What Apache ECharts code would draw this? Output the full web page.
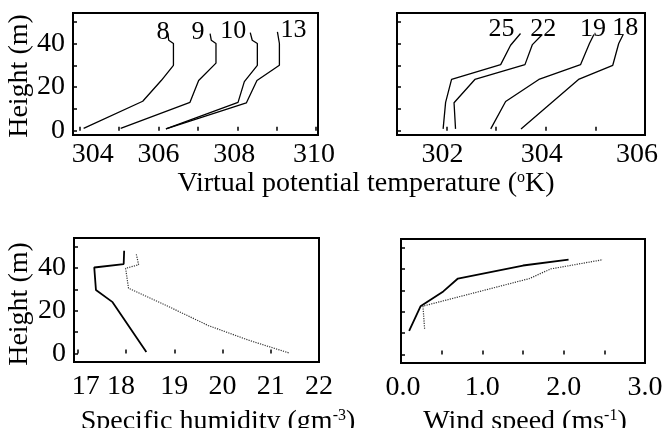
<!DOCTYPE html>
<html><head><meta charset="utf-8">
<script src="https://cdn.jsdelivr.net/npm/echarts@6/dist/echarts.min.js"></script>
<style>html,body{margin:0;padding:0;background:#fff}#c{width:662px;height:428px}</style>
</head><body><div id="c"></div>
<script>
// ---- Data ----
// Panel 1: virtual potential temperature profiles (K) vs height (m)
const h8  = [1, 13.5, 23, 30, 40, 41.5, 44.5];
const t8  = [304.1, 305.6, 306.07, 306.38, 306.38, 306.26, 306.24];
const h9  = [1, 13, 23, 31, 40, 41.5, 44.5];
const t9  = [305.04, 306.8, 307.02, 307.46, 307.46, 307.34, 307.31];
const h10 = [0.8, 13, 22.5, 30, 40, 41.5, 45];
const t10 = [306.19, 308.02, 308.18, 308.51, 308.51, 308.38, 308.33];
const h13 = [0.8, 12.7, 23, 30, 40, 45.3];
const t13 = [306.19, 308.23, 308.5, 309.07, 309.07, 309.02];
// Panel 2
const h25 = [0.8, 13, 23.5, 30.3, 39.2, 44.6];
const t25 = [301.93, 301.98, 302.1, 303.09, 303.29, 303.49];
const h22 = [0.8, 12.8, 23.5, 30.3, 39.5, 44.1];
const t22 = [302.18, 302.15, 302.57, 303.58, 303.73, 303.93];
const h19 = [0.8, 13.4, 23.5, 30.3, 40, 44.1];
const t19 = [302.89, 303.19, 303.86, 304.7, 304.88, 304.97];
const h18 = [0.8, 23.5, 30, 40, 44.1];
const t18 = [303.5, 304.66, 305.35, 305.47, 305.56];
// Panel 3: specific humidity (g m-3)
const hq1 = [0.7, 24, 29.7, 40.2, 41.8, 48];
const q1  = [18.42, 17.72, 17.375, 17.34, 17.95, 17.96];
const hq2 = [0.3, 6.2, 13.1, 22.8, 30.5, 39.8, 41.5, 46.6];
const q2  = [21.37, 20.54, 19.7, 18.8, 18.05, 17.99, 18.26, 18.21];
// Panel 4: wind speed (m s-1)
const hw1 = [11, 22.5, 29.5, 35.5, 41.6, 44.4];
const w1  = [0.1, 0.24, 0.52, 0.7, 1.5, 2.06];
const hw2 = [12, 22.6, 35.5, 40, 44.3];
const w2  = [0.29, 0.27, 1.58, 1.84, 2.48];
// Tick values / labels
const heightTicks = [0, 10, 20, 30, 40, 50];
const heightLabels = [0, 20, 40];
const tempTicks1 = [304, 305, 306, 307, 308, 309, 310];
const tempLabels1 = [304, 306, 308, 310];
const tempTicks2 = [301, 302, 303, 304, 305, 306];
const tempLabels2 = [302, 304, 306];
const humTicks = [17, 18, 19, 20, 21, 22];
const windTicks = [0, 0.5, 1, 1.5, 2, 2.5, 3];
const windLabels = [0, 1, 2, 3];

const FONT = 'Liberation Serif';
const zip = (xs, ys) => xs.map((x, i) => [x, ys[i]]);
function withLabel(pts, text, off) {
  return pts.map((p, i) => i === pts.length - 1 ?
    {value: p, label: {show: true, formatter: text, position: 'inside', offset: off,
      fontFamily: FONT, fontSize: 26, color: '#000'}} : {value: p});
}
function lineSeries(xi, data, opts) {
  return Object.assign({
    type: 'line', xAxisIndex: xi, yAxisIndex: xi, data: data,
    symbol: 'circle', symbolSize: 0, showSymbol: true, silent: true, animation: false,
    lineStyle: {color: '#000', width: 1.3}, itemStyle: {color: '#000'}
  }, opts || {});
}
function grid(l, t, w, h) {
  return {left: l, top: t, width: w, height: h, show: true, borderColor: '#000', borderWidth: 2,
    backgroundColor: 'transparent', containLabel: false, outerBoundsMode: 'none'};
}
// nudges of individual tick labels (typeset placement in the original)
function nudged(shifts, fmt) {
  const rich = {};
  Object.keys(shifts).forEach(k => {
    const d = shifts[k];
    rich['s' + k.replace('.', '_')] = {padding: d >= 0 ? [0, 0, 0, 2 * d] : [0, -2 * d, 0, 0],
      fontFamily: FONT, fontSize: 28, color: '#000'};
  });
  return {
    rich: rich,
    formatter: v => {
      const t = fmt ? fmt(v) : String(v);
      return shifts[String(v)] !== undefined ? '{s' + String(v).replace('.', '_') + '|' + t + '}' : t;
    }
  };
}
function xAx(gi, min, max, ticks, labels, margin, nud) {
  const lab = Object.assign({show: true, customValues: labels, margin: margin, fontFamily: FONT, fontSize: 28, color: '#000'}, nud);
  return {type: 'value', gridIndex: gi, min: min, max: max,
    axisLine: {show: false}, splitLine: {show: false},
    axisTick: {show: true, inside: true, length: 4, customValues: ticks, lineStyle: {color: '#000', width: 1.5}},
    axisLabel: lab};
}
function yAx(gi, min, max, showLabels) {
  return {type: 'value', gridIndex: gi, min: min, max: max,
    axisLine: {show: false}, splitLine: {show: false},
    axisTick: {show: true, inside: true, length: 4, customValues: heightTicks, lineStyle: {color: '#000', width: 1.5}},
    axisLabel: {show: showLabels, customValues: heightLabels, margin: 8, fontFamily: FONT, fontSize: 28, color: '#000'}};
}

const chart = echarts.init(document.getElementById('c'), null, {renderer: 'canvas'});
chart.setOption({
  animation: false,
  backgroundColor: '#fff',
  grid: [grid(73, 13, 245, 122), grid(397, 13, 248, 122), grid(74, 238, 245, 124), grid(401, 239, 244, 124)],
  xAxis: [
    xAx(0, 303.83, 310.05, tempTicks1, tempLabels1, 6, nudged({'304': 13, '308': -3, '310': -2})),
    xAx(1, 301, 306, tempTicks2, tempLabels2, 6, nudged({'302': -4, '304': -4, '306': -8})),
    xAx(2, 16.92, 22, humTicks, humTicks, 11, nudged({'17': 8, '18': -5})),
    xAx(3, 0, 3, windTicks, windLabels, 11, nudged({'0': 2}, v => v.toFixed(1)))
  ],
  yAxis: [yAx(0, -2, 54, true), yAx(1, -2, 54, false), yAx(2, -4, 54, true), yAx(3, -4, 54, false)],
  series: [
    lineSeries(0, withLabel(zip(t8, h8), '8', [-5, -2])),
    lineSeries(0, withLabel(zip(t9, h9), '9', [-12, -2])),
    lineSeries(0, withLabel(zip(t10, h10), '10', [-17, -1])),
    lineSeries(0, withLabel(zip(t13, h13), '13', [16, -2])),
    lineSeries(1, withLabel(zip(t25, h25), '25', [-19, -4])),
    lineSeries(1, withLabel(zip(t22, h22), '22', [1, -5])),
    lineSeries(1, withLabel(zip(t19, h19), '19', [-1, -5])),
    lineSeries(1, withLabel(zip(t18, h18), '18', [2, -6])),
    lineSeries(2, zip(q1, hq1), {lineStyle: {color: '#000', width: 1.8}}),
    lineSeries(2, zip(q2, hq2), {lineStyle: {color: '#333', width: 1.2, type: 'dotted'}}),
    lineSeries(3, zip(w1, hw1), {lineStyle: {color: '#000', width: 1.8}}),
    lineSeries(3, zip(w2, hw2), {lineStyle: {color: '#333', width: 1.2, type: 'dotted'}})
  ],
  graphic: [
    {type: 'text', x: 20, y: 76, rotation: Math.PI / 2,
      style: {text: 'Height (m)', font: '28px "Liberation Serif"', fill: '#000', align: 'center', verticalAlign: 'middle'}},
    {type: 'text', x: 20, y: 304, rotation: Math.PI / 2,
      style: {text: 'Height (m)', font: '28px "Liberation Serif"', fill: '#000', align: 'center', verticalAlign: 'middle'}},
    {type: 'text', x: 366, y: 184,
      style: {text: 'Virtual potential temperature ({sup|o}K)', font: '28px "Liberation Serif"', fill: '#000',
        align: 'center', verticalAlign: 'middle',
        rich: {sup: {fontSize: 16, fontFamily: FONT, verticalAlign: 'top', fill: '#000'}}}},
    {type: 'text', x: 218, y: 422,
      style: {text: 'Specific humidity (gm{sup|-3})', font: '28px "Liberation Serif"', fill: '#000',
        align: 'center', verticalAlign: 'middle',
        rich: {sup: {fontSize: 16, fontFamily: FONT, verticalAlign: 'top', fill: '#000'}}}},
    {type: 'text', x: 525, y: 422,
      style: {text: 'Wind speed (ms{sup|-1})', font: '28px "Liberation Serif"', fill: '#000',
        align: 'center', verticalAlign: 'middle',
        rich: {sup: {fontSize: 16, fontFamily: FONT, verticalAlign: 'top', fill: '#000'}}}}
  ]
});
</script></body></html>
